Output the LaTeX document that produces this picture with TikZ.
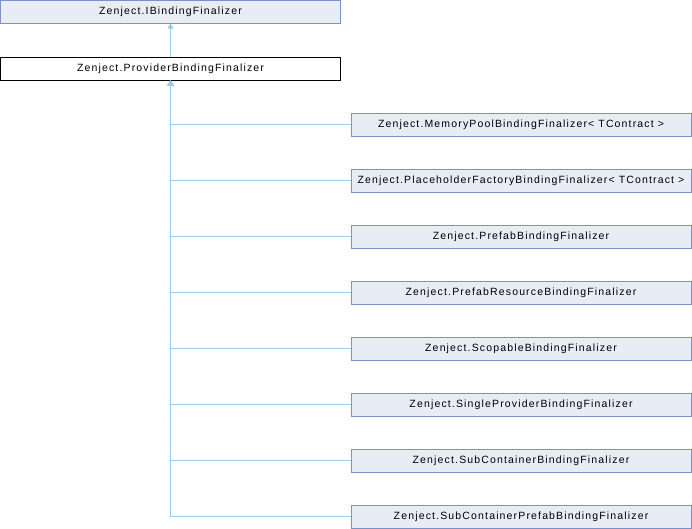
\documentclass[tikz,border=0pt]{standalone}
\usepackage{fontspec}
\setmainfont{Liberation Sans}
\newfontfamily\dfont[LetterSpace=11]{Liberation Sans}
\usetikzlibrary{arrows.meta}
\definecolor{boxfill}{HTML}{E8ECF5}
\definecolor{boxdraw}{HTML}{7B92C8}
\definecolor{edgecol}{HTML}{98CCEA}
\tikzset{
  cls/.style={draw=boxdraw, fill=boxfill, line width=1pt, minimum width=340pt, minimum height=23pt, inner sep=0pt, font=\dfont\fontsize{10.5}{12}\selectfont},
  curcls/.style={cls, draw=black, fill=white},
  inh/.style={draw=edgecol, line width=1pt, -{Triangle[width=6pt,length=5pt]}},
}
\begin{document}
\begin{tikzpicture}[x=1pt,y=-1pt]
\useasboundingbox (0,0) rectangle (692,528);
\node[cls] (ib) at (170.5,11.5) {Zenject.IBindingFinalizer};
\node[curcls] (pb) at (170.5,68.5) {Zenject.ProviderBindingFinalizer};
\node[cls] (c1) at (521,124.5) {Zenject.MemoryPoolBindingFinalizer< TContract >};
\node[cls] (c2) at (521,180.5) {Zenject.PlaceholderFactoryBindingFinalizer< TContract >};
\node[cls] (c3) at (521,236.5) {Zenject.PrefabBindingFinalizer};
\node[cls] (c4) at (521,292.5) {Zenject.PrefabResourceBindingFinalizer};
\node[cls] (c5) at (521,348.5) {Zenject.ScopableBindingFinalizer};
\node[cls] (c6) at (521,404.5) {Zenject.SingleProviderBindingFinalizer};
\node[cls] (c7) at (521,460.5) {Zenject.SubContainerBindingFinalizer};
\node[cls] (c8) at (521,516.5) {Zenject.SubContainerPrefabBindingFinalizer};
\draw[inh] (pb.north) -- (ib.south);
\foreach \c in {c1,c2,c3,c4,c5,c6,c7,c8}{
  \draw[inh] (\c.west) -| (pb.south);
}
\end{tikzpicture}
\end{document}
